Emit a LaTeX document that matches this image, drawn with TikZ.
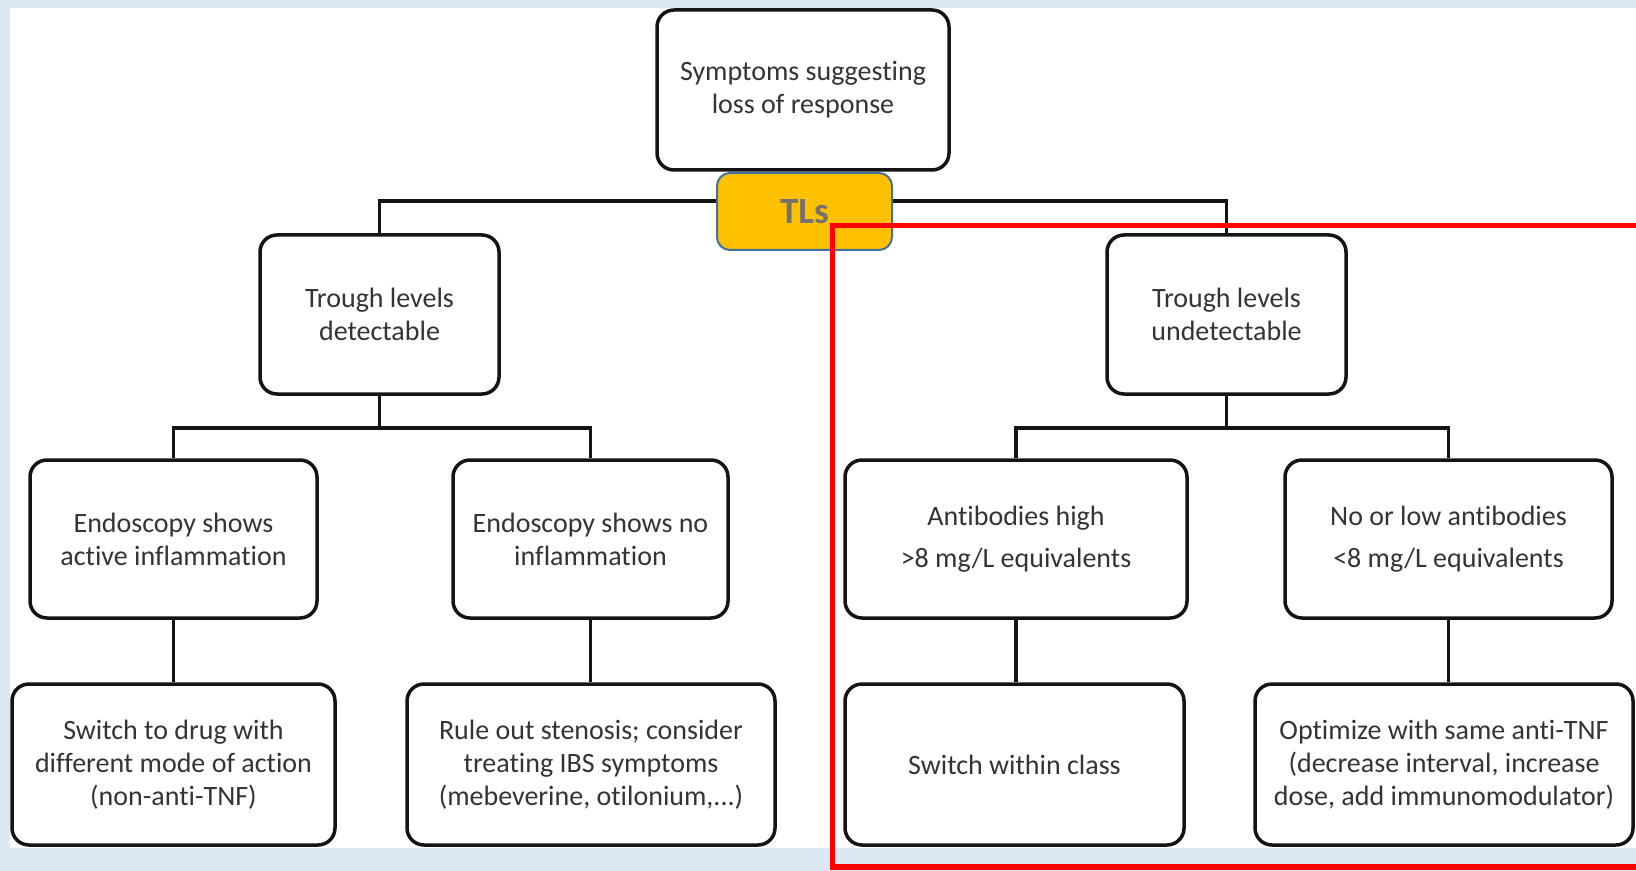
\documentclass[tikz,border=0pt]{standalone}
\usepackage{fontspec}
\setmainfont{Carlito}[Ligatures={NoCommon}]
\definecolor{pageblue}{RGB}{221,232,245}
\definecolor{textgray}{RGB}{52,52,52}
\definecolor{tlsfill}{RGB}{255,192,0}
\definecolor{tlsedge}{RGB}{65,113,156}
\definecolor{tlstext}{RGB}{118,113,113}
\tikzset{
  flowbox/.style={draw=black!92, line width=1.75pt, rounded corners=8.5pt, fill=white,
    align=center, text=textgray, inner sep=0pt,
    font=\fontsize{14pt}{16.5pt}\selectfont},
  conn/.style={draw=black!92, line width=1.6pt},
  tlsbox/.style={draw=tlsedge, line width=1pt, rounded corners=6.5pt, fill=tlsfill,
    text=tlstext, inner sep=0pt, font=\fontsize{18.5pt}{20pt}\selectfont\bfseries},
  frame/.style={draw=red, line width=2.9pt}
}
\begin{document}
\begin{tikzpicture}[x=0.5pt,y=-0.5pt]
  % page and canvas
  \useasboundingbox (0,0) rectangle (1636,871);
  \clip (0,0) rectangle (1636,871);
  \fill[pageblue] (0,0) rectangle (1636,871);
  \fill[white] (10,8) rectangle (1636,848);

  % bus levels
  \coordinate (bus1) at (0,201);
  \coordinate (bus2) at (0,428);

  % first level
  \node[flowbox, minimum width=146pt, minimum height=80pt] (top) at (803,90)
    {Symptoms suggesting\\loss of response};

  % second level
  \node[flowbox, minimum width=119.5pt, minimum height=79.5pt] (detect) at (379.5,314.5)
    {Trough levels\\detectable};
  \node[flowbox, minimum width=119.5pt, minimum height=79.5pt] (undetect) at (1226.5,314.5)
    {Trough levels\\undetectable};

  % third level
  \node[flowbox, minimum width=143.5pt, minimum height=79pt] (active) at (173.5,539)
    {Endoscopy shows\\active inflammation};
  \node[flowbox, minimum width=137.5pt, minimum height=79pt] (noinfl) at (590.5,539)
    {Endoscopy shows no\\inflammation};
  \node[flowbox, minimum width=171pt, minimum height=79pt] (abhigh) at (1016,539)
    {Antibodies high\\[4.5pt]>8 mg/L equivalents};
  \node[flowbox, minimum width=163.5pt, minimum height=79pt] (ablow) at (1448.5,539)
    {No or low antibodies\\[4.5pt]<8 mg/L equivalents};

  % actions
  \node[flowbox, minimum width=161.5pt, minimum height=80.5pt] (switch) at (173.5,764.5)
    {Switch to drug with\\different mode of action\\(non-anti-TNF)};
  \node[flowbox, minimum width=184pt, minimum height=80.5pt] (ruleout) at (591,764.5)
    {Rule out stenosis; consider\\treating IBS symptoms\\(mebeverine, otilonium,...)};
  \node[flowbox, minimum width=169.5pt, minimum height=80.5pt] (within) at (1014.5,764.5)
    {Switch within class};
  \node[flowbox, minimum width=189pt, minimum height=80.5pt] (optimize) at (1444,764.5)
    {Optimize with same anti-TNF\\(decrease interval, increase\\dose, add immunomodulator)};

  % connectors
  \draw[conn] (top.south) -- (top.south |- bus1);
  \draw[conn] (detect.north) -- (detect.north |- bus1) -- (undetect.north |- bus1) -- (undetect.north);
  \draw[conn] (detect.south) -- (detect.south |- bus2);
  \draw[conn] (active.north) -- (active.north |- bus2) -- (noinfl.north |- bus2) -- (noinfl.north);
  \draw[conn] (undetect.south) -- (undetect.south |- bus2);
  \draw[conn] (abhigh.north) -- (abhigh.north |- bus2) -- (ablow.north |- bus2) -- (ablow.north);
  \draw[conn] (active.south) -- (active.south |- switch.north);
  \draw[conn] (noinfl.south) -- (noinfl.south |- ruleout.north);
  \draw[conn] (abhigh.south) -- (abhigh.south |- within.north);
  \draw[conn] (ablow.south) -- (ablow.south |- optimize.north);

  % trough level test label
  \node[tlsbox, minimum width=87.5pt, minimum height=38.5pt] (tls) at (804.5,211.5) {TLs};

  % highlight frame
  \draw[frame] (1650,225.5) -- (832.5,225.5) -- (832.5,867) -- (1650,867);
\end{tikzpicture}
\end{document}
